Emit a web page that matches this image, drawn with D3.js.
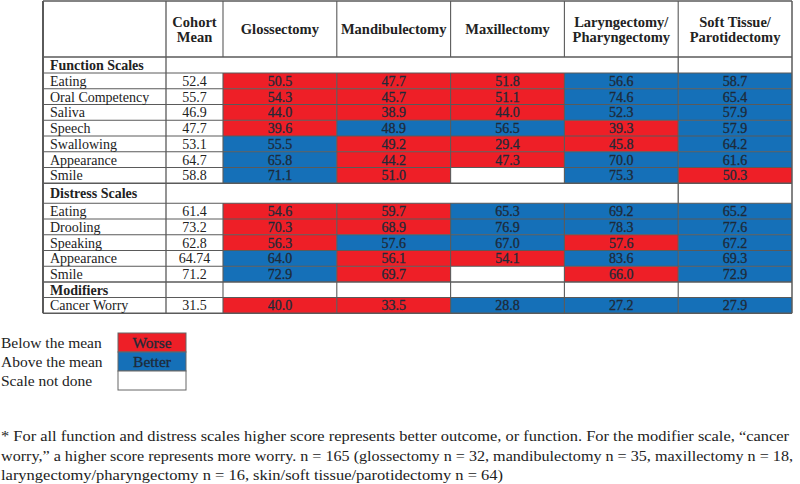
<!DOCTYPE html>
<html><head><meta charset="utf-8">
<script src="https://cdn.jsdelivr.net/npm/d3@7/dist/d3.min.js"></script>
<style>body{margin:0;background:#fff}svg{display:block}</style>
</head><body>
<script>
// ---------- DATA ----------
const columns = ["Glossectomy", "Mandibulectomy", "Maxillectomy", "Laryngectomy/Pharyngectomy", "Soft Tissue/Parotidectomy"];
const columnHeaders = [["Glossectomy"], ["Mandibulectomy"], ["Maxillectomy"], ["Laryngectomy/", "Pharyngectomy"], ["Soft Tissue/", "Parotidectomy"]];
const sections = ["Function Scales", "Distress Scales", "Modifiers"];
const functionRows = ["Eating", "Oral Competency", "Saliva", "Speech", "Swallowing", "Appearance", "Smile"];
const distressRows = ["Eating", "Drooling", "Speaking", "Appearance", "Smile"];
const modifierRows = ["Cancer Worry"];
const functionMean = [52.4, 55.7, 46.9, 47.7, 53.1, 64.7, 58.8];
const distressMean = [61.4, 73.2, 62.8, 64.74, 71.2];
const modifierMean = [31.5];
// values per row, columns in order above; null = scale not done
const functionValues = [
  [50.5, 47.7, 51.8, 56.6, 58.7],
  [54.3, 45.7, 51.1, 74.6, 65.4],
  [44.0, 38.9, 44.0, 52.3, 57.9],
  [39.6, 48.9, 56.5, 39.3, 57.9],
  [55.5, 49.2, 29.4, 45.8, 64.2],
  [65.8, 44.2, 47.3, 70.0, 61.6],
  [71.1, 51.0, null, 75.3, 50.3]
];
const functionStatus = [
  ["W","W","W","B","B"],
  ["W","W","W","B","B"],
  ["W","W","W","B","B"],
  ["W","B","B","W","B"],
  ["B","W","W","W","B"],
  ["B","W","W","B","B"],
  ["B","W",null,"B","W"]
];
const distressValues = [
  [54.6, 59.7, 65.3, 69.2, 65.2],
  [70.3, 68.9, 76.9, 78.3, 77.6],
  [56.3, 57.6, 67.0, 57.6, 67.2],
  [64.0, 56.1, 54.1, 83.6, 69.3],
  [72.9, 69.7, null, 66.0, 72.9]
];
const distressStatus = [
  ["W","W","B","B","B"],
  ["W","W","B","B","B"],
  ["W","B","B","W","B"],
  ["B","W","W","B","B"],
  ["B","W",null,"W","B"]
];
const modifierValues = [[40.0, 33.5, 28.8, 27.2, 27.9]];
const modifierStatus = [["W","W","B","B","B"]];
const legendLabels = ["Below the mean", "Above the mean", "Scale not done"];
const legendKeys = ["W", "B", null];
const legendBoxText = ["Worse", "Better", ""];
const footnote = [
  "* For all function and distress scales higher score represents better outcome, or function. For the modifier scale, \u201ccancer",
  "worry,\u201d a higher score represents more worry. n = 165 (glossectomy n = 32, mandibulectomy n = 35, maxillectomy n = 18,",
  "laryngectomy/pharyngectomy n = 16, skin/soft tissue/parotidectomy n = 64)"
];

// ---------- LAYOUT ----------
const W = 800, H = 484;
const RED = "#ee1f27", BLUE = "#1570b8", TXT = "#222222", CELLTXT = "#1e2a38", GRID = "#5a5a5a";
const FONT = "'Liberation Serif', 'DejaVu Serif', serif";
const color = k => k === "W" ? RED : k === "B" ? BLUE : "#ffffff";
const fmt = v => v == null ? "" : (Math.round(v * 10) === v * 10 ? v.toFixed(1) : String(v));

const svg = d3.select("body").append("svg").attr("width", W).attr("height", H)
  .style("font-family", FONT);

const tableLeft = 43, labelRight = 166, meanRight = 223, tableRight = 792;
const x = d3.scaleBand().domain(columns).range([meanRight, tableRight]);

const groups = [
  {section: sections[0], rows: functionRows, mean: functionMean, vals: functionValues, st: functionStatus, secH: 16},
  {section: sections[1], rows: distressRows, mean: distressMean, vals: distressValues, st: distressStatus, secH: 20},
  {section: sections[2], rows: modifierRows, mean: modifierMean, vals: modifierValues, st: modifierStatus, secH: 15.5}
];
const rowH = 15.75, headerTop = 1, headerBottom = 57;
let yCur = headerBottom;
const rowList = [];
groups.forEach((g, gi) => {
  rowList.push({type: "section", label: g.section, y: yCur, h: g.secH, gi});
  yCur += g.secH;
  g.rows.forEach((r, i) => {
    rowList.push({type: "data", label: r, mean: g.mean[i], vals: g.vals[i], st: g.st[i], y: yCur, h: rowH});
    yCur += rowH;
  });
});
const tableBottom = yCur;

const gCells = svg.append("g");
const gLines = svg.append("g");
const gText = svg.append("g");

// cell fills
rowList.filter(r => r.type === "data").forEach(r => {
  gCells.selectAll(null).data(columns).enter().append("rect")
    .attr("x", c => x(c)).attr("y", r.y).attr("width", x.bandwidth()).attr("height", r.h)
    .attr("fill", (c, i) => color(r.st[i]));
});

// grid lines
const line = (x1, y1, x2, y2, w) => gLines.append("line").attr("x1", x1).attr("y1", y1).attr("x2", x2).attr("y2", y2)
  .attr("stroke", GRID).attr("stroke-width", w || 1.2);
line(tableLeft, headerTop, tableRight, headerTop, 1.5);
rowList.forEach(r => line(tableLeft, r.y, tableRight, r.y, r.type === "data" ? 1 : 1.3));
line(tableLeft, tableBottom, tableRight, tableBottom, 1.5);
const colEdges = [meanRight].concat(columns.map(c => x(c) + x.bandwidth()));
line(tableLeft, headerTop, tableLeft, tableBottom, 2);
line(labelRight, headerTop, labelRight, tableBottom, 1.3);
line(tableRight, headerTop, tableRight, tableBottom, 1.5);
const verticalSpans = [[headerTop, headerBottom]];
rowList.forEach(r => {
  if (r.type === "data" || r.gi === 2) verticalSpans.push([r.y, r.y + r.h]);
  else verticalSpans.push(["sec", r.y, r.y + r.h]);
});
verticalSpans.forEach(s => {
  if (s[0] === "sec") { line(x(columns[4]), s[1], x(columns[4]), s[2], 1.3); return; }
  colEdges.slice(0, -1).forEach(e => line(e, s[0], e, s[1], 1.1));
});

// header text
const hMid = (headerTop + headerBottom) / 2;
gText.append("text").attr("text-anchor", "middle")
  .attr("font-weight", "bold").attr("font-size", 14.5).attr("fill", TXT)
  .selectAll("tspan").data(["Cohort", "Mean"]).enter().append("tspan")
  .attr("x", (labelRight + meanRight) / 2).attr("y", (d, i) => hMid - 2.5 + i * 15).text(d => d);
columns.forEach((c, ci) => {
  const lines = columnHeaders[ci];
  gText.append("text").attr("text-anchor", "middle").attr("font-weight", "bold").attr("font-size", 14.5).attr("fill", TXT)
    .selectAll("tspan").data(lines).enter().append("tspan")
    .attr("x", x(c) + x.bandwidth() / 2)
    .attr("y", (d, i) => hMid + 5 + (i - (lines.length - 1) / 2) * 15).text(d => d);
});

// row text
rowList.forEach(r => {
  const by = r.y + r.h / 2 + 5;
  gText.append("text").attr("x", 50).attr("y", by).attr("font-size", 14).attr("fill", TXT)
    .attr("font-weight", r.type === "section" ? "bold" : "normal").text(r.label);
  if (r.type === "data") {
    gText.append("text").attr("x", (labelRight + meanRight) / 2).attr("y", by).attr("text-anchor", "middle")
      .attr("font-size", 14).attr("fill", TXT).text(fmt(r.mean));
    gText.selectAll(null).data(columns).enter().append("text")
      .attr("x", c => x(c) + x.bandwidth() / 2).attr("y", by).attr("text-anchor", "middle")
      .attr("font-size", 14).attr("fill", CELLTXT).attr("stroke", CELLTXT).attr("stroke-width", 0.3)
      .text((c, i) => fmt(r.vals[i]));
  }
});

// legend
const lg = svg.append("g");
const ly = d3.scaleBand().domain(legendLabels).range([333, 390]);
legendLabels.forEach((l, i) => {
  lg.append("rect").attr("x", 118).attr("y", ly(l)).attr("width", 68).attr("height", ly.bandwidth())
    .attr("fill", color(legendKeys[i])).attr("stroke", "#666").attr("stroke-width", 1);
});
legendLabels.forEach((l, i) => {
  lg.append("text").attr("x", 1).attr("y", ly(l) + ly.bandwidth() / 2 + 5).attr("font-size", 15.5).attr("fill", TXT).text(l);
  lg.append("text").attr("x", 152).attr("y", ly(l) + ly.bandwidth() / 2 + 5).attr("text-anchor", "middle")
    .attr("font-size", 15.5).attr("fill", CELLTXT).attr("stroke", CELLTXT).attr("stroke-width", 0.3).text(legendBoxText[i]);
});

// footnote
const fw = [788, 792, 502];
footnote.forEach((t, i) => {
  svg.append("text").attr("x", 1).attr("y", 441 + i * 19.5).attr("font-size", 15.5).attr("fill", TXT)
    .attr("textLength", fw[i]).attr("lengthAdjust", "spacingAndGlyphs").text(t);
});
</script>
</body></html>
